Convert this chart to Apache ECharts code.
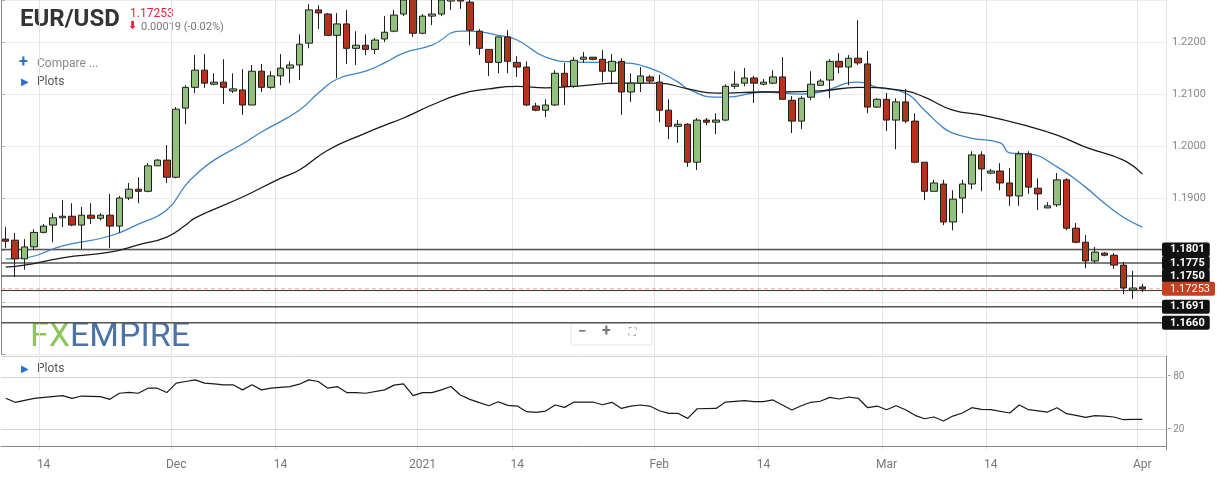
<!DOCTYPE html>
<html lang="en">
<head>
    <meta charset="UTF-8">
    <title>EUR/USD</title>
    <script src="https://cdn.jsdelivr.net/npm/echarts@6/dist/echarts.min.js"></script>
    <style>
        html, body { margin: 0; padding: 0; background: #fff; }
        #chart { width: 1219px; height: 480px; }
    </style>
</head>
<body>
    <div id="chart"></div>
    <script>
        // daily candles
        var opens = [
            1.1821,1.1819,1.1783,1.1806,1.1834,1.1848,1.1862,1.1865,1.1848,1.1867,
            1.1861,1.1867,1.1846,1.1900,1.1917,1.1913,1.1962,1.1973,1.1940,1.2073,
            1.2113,1.2146,1.2119,1.2123,1.2106,1.2108,1.2079,1.2144,1.2113,1.2135,
            1.2150,1.2156,1.2198,1.2262,1.2254,1.2213,1.2235,1.2188,1.2194,1.2186,
            1.2206,1.2221,1.2254,1.2285,1.2217,1.2250,1.2254,1.2279,1.2290,1.2277,
            1.2221,1.2186,1.2161,1.2210,1.2161,1.2152,1.2077,1.2069,1.2079,1.2140,
            1.2115,1.2167,1.2171,1.2167,1.2144,1.2163,1.2104,1.2121,1.2133,1.2123,
            1.2069,1.2038,1.2042,1.1969,1.2050,1.2046,1.2050,1.2115,1.2121,1.2131,
            1.2119,1.2121,1.2133,1.2088,1.2048,1.2094,1.2117,1.2127,1.2163,1.2152,
            1.2169,1.2158,1.2075,1.2090,1.2050,1.2085,1.2048,1.1969,1.1913,1.1927,
            1.1854,1.1900,1.1927,1.1983,1.1948,1.1952,1.1929,1.1904,1.1985,1.1919,
            1.1881,1.1887,1.1935,1.1842,1.1815,1.1779,1.1794,1.1790,1.1771,1.1723,
            1.1729
        ];
        var closes = [
            1.1817,1.1783,1.1806,1.1834,1.1846,1.1862,1.1865,1.1848,1.1867,1.1861,
            1.1867,1.1846,1.1900,1.1917,1.1913,1.1962,1.1973,1.1940,1.2071,1.2113,
            1.2146,1.2121,1.2123,1.2113,1.2110,1.2079,1.2144,1.2113,1.2135,1.2150,
            1.2156,1.2196,1.2262,1.2256,1.2213,1.2235,1.2188,1.2194,1.2186,1.2204,
            1.2219,1.2252,1.2281,1.2217,1.2250,1.2254,1.2281,1.2285,1.2279,1.2223,
            1.2188,1.2161,1.2210,1.2163,1.2152,1.2079,1.2069,1.2079,1.2140,1.2115,
            1.2165,1.2171,1.2167,1.2144,1.2163,1.2104,1.2121,1.2135,1.2125,1.2069,
            1.2038,1.2042,1.1969,1.2050,1.2046,1.2050,1.2115,1.2119,1.2131,1.2121,
            1.2123,1.2133,1.2090,1.2048,1.2092,1.2119,1.2125,1.2163,1.2152,1.2169,
            1.2160,1.2075,1.2090,1.2050,1.2085,1.2048,1.1969,1.1913,1.1929,1.1854,
            1.1898,1.1927,1.1983,1.1956,1.1952,1.1929,1.1904,1.1985,1.1921,1.1908,
            1.1885,1.1935,1.1842,1.1815,1.1779,1.1796,1.1790,1.1771,1.1727,1.1727,
            1.1725
        ];
        var highs = [
            1.1844,1.1833,1.1821,1.1840,1.1850,1.1871,1.1896,1.1890,1.1883,1.1890,
            1.1871,1.1908,1.1904,1.1929,1.1940,1.1967,1.1975,1.2002,1.2075,1.2117,
            1.2175,1.2177,1.2140,1.2167,1.2140,1.2148,1.2156,1.2158,1.2144,1.2177,
            1.2163,1.2215,1.2273,1.2271,1.2256,1.2256,1.2262,1.2221,1.2215,1.2208,
            1.2250,1.2262,1.2290,1.2295,1.2254,1.2285,1.2290,1.2295,1.2300,1.2285,
            1.2225,1.2186,1.2210,1.2223,1.2173,1.2163,1.2083,1.2090,1.2146,1.2160,
            1.2171,1.2181,1.2171,1.2185,1.2177,1.2169,1.2140,1.2152,1.2137,1.2137,
            1.2090,1.2050,1.2044,1.2054,1.2054,1.2063,1.2119,1.2144,1.2150,1.2135,
            1.2129,1.2146,1.2171,1.2096,1.2096,1.2144,1.2129,1.2167,1.2179,1.2175,
            1.2242,1.2183,1.2092,1.2102,1.2092,1.2110,1.2063,1.1969,1.1935,1.1935,
            1.1915,1.1935,1.1990,1.1990,1.1956,1.1967,1.1958,1.1990,1.1990,1.1938,
            1.1892,1.1948,1.1938,1.1852,1.1829,1.1806,1.1796,1.1794,1.1777,1.1760,
            1.1735
        ];
        var lows = [
            1.1804,1.1748,1.1762,1.1800,1.1832,1.1815,1.1844,1.1846,1.1802,1.1850,
            1.1857,1.1804,1.1833,1.1896,1.1890,1.1911,1.1962,1.1929,1.1938,1.2042,
            1.2102,1.2112,1.2117,1.2081,1.2102,1.2060,1.2079,1.2104,1.2110,1.2117,
            1.2121,1.2127,1.2188,1.2225,1.2213,1.2131,1.2158,1.2156,1.2175,1.2177,
            1.2200,1.2219,1.2250,1.2210,1.2215,1.2233,1.2250,1.2262,1.2264,1.2194,
            1.2175,1.2135,1.2140,1.2140,1.2133,1.2077,1.2067,1.2056,1.2077,1.2079,
            1.2112,1.2160,1.2165,1.2123,1.2119,1.2060,1.2085,1.2104,1.2121,1.2046,
            1.2013,1.2006,1.1960,1.1954,1.2040,1.2023,1.2048,1.2110,1.2115,1.2083,
            1.2117,1.2119,1.2090,1.2025,1.2033,1.2088,1.2117,1.2092,1.2140,1.2117,
            1.2156,1.2063,1.2073,1.2029,1.1994,1.2044,1.1967,1.1896,1.1913,1.1848,
            1.1838,1.1871,1.1917,1.1913,1.1946,1.1915,1.1885,1.1885,1.1908,1.1877,
            1.1881,1.1883,1.1838,1.1813,1.1765,1.1775,1.1788,1.1764,1.1715,1.1706,
            1.1719
        ];

        // moving averages, [candle index, value] read at points along the lines
        var maFast = [
            [0,1.1783],[2,1.1785],[6,1.1808],[11,1.1827],[14,1.1850],[17,1.1877],[19,1.1925],[20,1.1944],
            [22,1.1973],[25,1.2004],[27,1.2027],[31,1.2069],[33,1.2102],[35,1.2129],[38,1.2144],[40,1.2160],
            [42,1.2179],[45,1.2194],[48,1.2221],[49,1.2221],[52,1.2213],[54,1.2204],[57,1.2171],[60,1.2162],
            [65,1.2160],[68,1.2150],[71,1.2123],[72,1.2110],[75,1.2094],[76,1.2094],[80,1.2104],[84,1.2100],
            [86,1.2104],[90,1.2123],[92,1.2113],[95,1.2102],[97,1.2069],[99,1.2035],[100,1.2025],[102,1.2015],
            [105,1.2006],[106,1.1987],[108,1.1985],[111,1.1960],[114,1.1921],[116,1.1890],[118,1.1863],[120,1.1844]
        ];
        var maSlow = [
            [0,1.1767],[2,1.1771],[6,1.1785],[11,1.1796],[14,1.1810],[17,1.1825],[19,1.1848],[20,1.1862],
            [25,1.1902],[29,1.1938],[31,1.1954],[34,1.1992],[38,1.2025],[40,1.2040],[42,1.2054],[45,1.2079],
            [48,1.2100],[51,1.2110],[54,1.2115],[57,1.2112],[60,1.2115],[65,1.2121],[69,1.2121],[72,1.2110],
            [75,1.2102],[80,1.2104],[82,1.2104],[86,1.2106],[90,1.2113],[95,1.2106],[97,1.2094],[100,1.2069],
            [103,1.2060],[108,1.2038],[111,1.2021],[114,1.1998],[118,1.1973],[120,1.1946]
        ];

        // lower oscillator panel
        var osc = [
            [0,55.4],[1,50.8],[3,55.4],[6,58.5],[7,55.4],[8,58],[10,57.3],[11,54.2],[12,61.2],[13,62.3],
            [14,61.2],[15,67],[16,67],[17,62],[18,72.8],[19,74.7],[20,76.6],[21,72.8],[22,72],[23,70.9],
            [24,70.9],[25,65.1],[26,70.9],[27,65.1],[28,67],[30,68.9],[31,71.6],[32,76.6],[33,74.7],[34,67],
            [35,68.9],[36,62],[37,62],[38,61.2],[40,65.1],[41,70.5],[42,72],[43,58.5],[44,62],[45,62],
            [46,65.1],[47,68.9],[48,59.2],[49,54.2],[50,50.4],[51,46.9],[52,51.5],[53,47.3],[54,46.5],[55,40],
            [56,39.2],[57,40.7],[58,47.7],[59,45],[60,51.1],[62,51.1],[63,48],[64,50.8],[65,43.8],[66,46.5],
            [67,47.7],[68,46.5],[69,41.1],[70,38],[71,38],[72,32.3],[73,43.4],[75,43.8],[76,51.1],[78,52.7],
            [79,51.5],[80,51.5],[81,53.5],[82,47.7],[83,41.9],[84,46.9],[85,50.8],[86,52],[87,56.5],[88,54.6],
            [89,56.9],[90,55.4],[91,44.6],[92,46.5],[93,42.3],[94,46.9],[95,42.3],[96,35.8],[97,31.9],[98,33.9],
            [99,29.3],[100,35],[101,38.5],[102,44.6],[103,42.7],[104,42.3],[106,38.5],[107,47.7],[108,42.3],[110,39.6],
            [111,44.6],[112,37.7],[113,35.8],[114,33.5],[115,35.4],[116,35],[117,33.9],[118,30.8],[119,31.2],[120,31.2]
        ];

        var levels = [1.1801, 1.1775, 1.1750, 1.1691, 1.1660];
        var lastPrice = 1.17253;

        var tickIdx = [4, 18, 29, 44, 54, 69, 80, 93, 104, 120];
        var tickText = ['14', 'Dec', '14', '2021', '14', 'Feb', '14', 'Mar', '14', 'Apr'];
        var slots = 123;

        var cats = [];
        for (var i = 0; i < slots; i++) cats.push(String(i));
        var candles = opens.map(function (o, i) { return [o, closes[i], lows[i], highs[i]]; });

        var isTick = function (idx) { return tickIdx.indexOf(idx) >= 0; };
        var font = 'Roboto, "Noto Sans", sans-serif';

        // horizontal levels across the full panel, on a hidden 0..1 x axis, tag at the right end
        function levelSeries(v, text, lineStyle, bg, bold) {
            return {
                type: 'line', xAxisIndex: 2, yAxisIndex: 0, silent: true, showSymbol: false,
                data: [[0, v], [1, v]], lineStyle: lineStyle, z: 1,
                endLabel: {
                    show: !!text, formatter: text || '', distance: -4,
                    color: '#fff', fontWeight: bold ? 'bold' : 'normal', fontSize: 11, fontFamily: font,
                    backgroundColor: bg, padding: [2, 5, 1, 8], borderRadius: 2
                }
            };
        }
        var extraSeries = levels.map(function (v) {
            return levelSeries(v, v.toFixed(4), { color: '#555', width: 1.5, type: 'solid' }, '#111', true);
        });
        extraSeries.push(levelSeries(1.1722, '', { color: '#333', width: 1, type: 'solid' }, '#111', false));
        extraSeries.push(levelSeries(lastPrice, lastPrice.toFixed(5), { color: '#e8a090', width: 1, type: [4, 3] }, '#c4411f', false));

        var chart = echarts.init(document.getElementById('chart'));
        var option = {
            animation: false,
            backgroundColor: '#fff',
            grid: [
                { left: 1, right: 53, top: 0, height: 354 },
                { left: 1, right: 53, top: 356, height: 94 }
            ],
            xAxis: [{
                type: 'category', data: cats, gridIndex: 0, boundaryGap: true,
                axisLine: { show: false }, axisTick: { show: false }, axisLabel: { show: false },
                splitLine: { show: true, interval: function (idx) { return isTick(idx); }, lineStyle: { color: '#e4e4e4' } }
            }, {
                type: 'category', data: cats, gridIndex: 1, boundaryGap: true,
                axisLine: { show: true, lineStyle: { color: '#888' } },
                axisTick: { show: false },
                axisLabel: {
                    interval: function (idx) { return isTick(idx); },
                    formatter: function (v, idx) { var k = tickIdx.indexOf(idx); return k >= 0 ? tickText[k] : ''; },
                    color: '#777', fontSize: 12, fontFamily: font, margin: 9
                },
                splitLine: { show: true, interval: function (idx) { return isTick(idx); }, lineStyle: { color: '#e4e4e4' } }
            }, {
                type: 'value', gridIndex: 0, min: 0, max: 1, show: false
            }],
            yAxis: [{
                type: 'value', gridIndex: 0, position: 'right', min: 1.16, max: 1.2281, interval: 0.01,
                axisLine: { show: true, lineStyle: { color: '#888' } },
                axisTick: { show: true, length: 4, lineStyle: { color: '#aaa' } },
                axisLabel: {
                    formatter: function (v) { return (v > 1.185 && v < 1.225) ? v.toFixed(4) : ''; },
                    color: '#888', fontSize: 11, fontFamily: font, margin: 6
                },
                splitLine: { lineStyle: { color: '#ececec' } }
            }, {
                type: 'value', gridIndex: 1, position: 'right', min: -4, max: 104, interval: 12,
                axisLine: { show: true, lineStyle: { color: '#888' } },
                axisTick: { show: false },
                axisLabel: {
                    formatter: function (v) { return (v === 20 || v === 80) ? '- ' + v : ''; },
                    color: '#888', fontSize: 10, fontFamily: font, margin: 2
                },
                splitLine: { show: false }
            }],
            graphic: [
                { type: 'text', left: 20, top: 8, style: { text: 'EUR/USD', font: 'bold 24px ' + font, fill: '#333' } },
                { type: 'text', left: 130, top: 8, style: { text: '1.17253', font: '12px ' + font, fill: '#e0253d' } },
                { type: 'text', left: 128, top: 21, style: { text: '\u2B07', font: 'bold 11px "DejaVu Sans"', fill: '#e0253d' } },
                { type: 'text', left: 141, top: 22, style: { text: '0.00019 (-0.02%)', font: '11px ' + font, fill: '#777' } },
                { type: 'text', left: 19, top: 55, style: { text: '+', font: 'bold 16px ' + font, fill: '#2a6fd1' } },
                { type: 'text', left: 37, top: 58, style: { text: 'Compare ...', font: '12px ' + font, fill: '#888' } },
                { type: 'text', left: 21, top: 77, style: { text: '\u25B6', font: '10px "DejaVu Sans"', fill: '#2a6fd1' } },
                { type: 'text', left: 37, top: 76, style: { text: 'Plots', font: '12px ' + font, fill: '#555' } },
                { type: 'text', left: 21, top: 364, style: { text: '\u25B6', font: '10px "DejaVu Sans"', fill: '#2a6fd1' } },
                { type: 'text', left: 37, top: 363, style: { text: 'Plots', font: '12px ' + font, fill: '#555' } },
                { type: 'text', left: 30, top: 320, style: { text: 'FX', font: '34px ' + font, fill: '#8cc65a' } },
                { type: 'text', left: 70, top: 320, style: { text: 'EMPIRE', font: '34px ' + font, fill: '#4c73a8' } },
                { type: 'rect', shape: { x: 571, y: 323, width: 81, height: 22, r: 2 }, style: { fill: '#fff', stroke: '#e6e6e6' } },
                { type: 'text', left: 578, top: 325, style: { text: '\u2212', font: 'bold 15px ' + font, fill: '#777' } },
                { type: 'text', left: 602, top: 324, style: { text: '+', font: 'bold 16px ' + font, fill: '#777' } },
                { type: 'text', left: 629, top: 327, style: { text: '\u26F6', font: '10px "DejaVu Sans"', fill: '#888' } }
            ],
            series: [{
                type: 'candlestick', xAxisIndex: 0, yAxisIndex: 0, data: candles, barWidth: 7, z: 3,
                itemStyle: { color: '#92c07e', color0: '#b3341d', borderColor: '#1e1e1e', borderColor0: '#1e1e1e', borderWidth: 1 }
            }, {
                type: 'line', xAxisIndex: 0, yAxisIndex: 0, data: maFast, smooth: true, showSymbol: false,
                lineStyle: { color: '#3d84c6', width: 1.3 }
            }, {
                type: 'line', xAxisIndex: 0, yAxisIndex: 0, data: maSlow, smooth: true, showSymbol: false,
                lineStyle: { color: '#1a1a1a', width: 1.3 }
            }, {
                type: 'line', xAxisIndex: 1, yAxisIndex: 1, data: osc, showSymbol: false,
                lineStyle: { color: '#1a1a1a', width: 1.2 },
                markLine: {
                    silent: true, symbol: 'none', label: { show: false },
                    lineStyle: { color: '#d4d4d4', type: 'solid', width: 1 },
                    data: [{ yAxis: 20 }, { yAxis: 80 }, { yAxis: 104 }]
                }
            }].concat(extraSeries)
        };
        chart.setOption(option);
    </script>
</body>
</html>
